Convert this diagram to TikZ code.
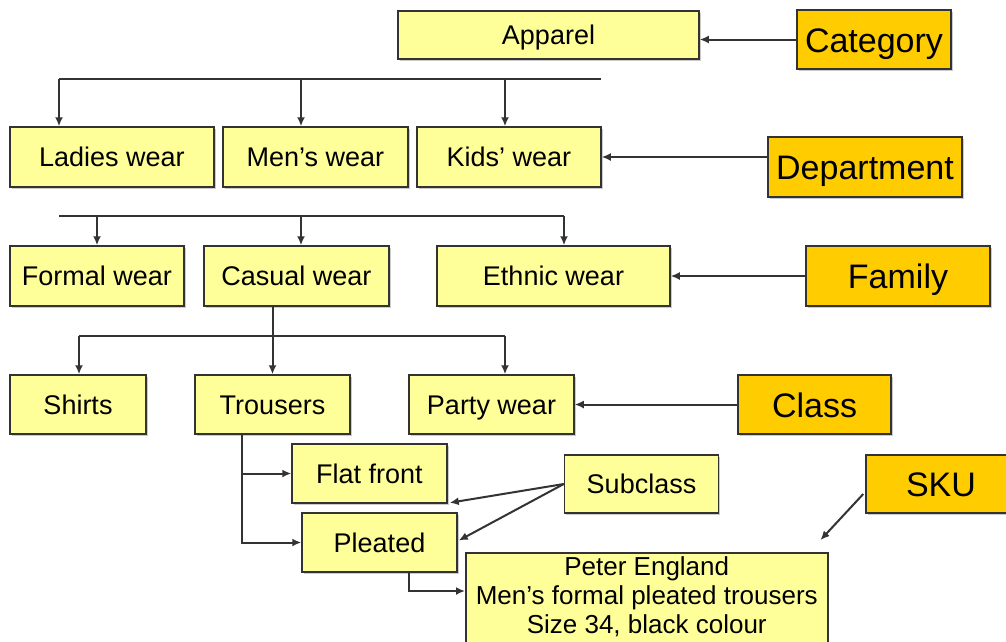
\documentclass[tikz,border=0pt]{standalone}
\usepackage{fontspec}
\setmainfont{Liberation Sans}
\usetikzlibrary{arrows.meta,calc,shadows}
\definecolor{paleyellow}{HTML}{FFFF99}
\definecolor{gold}{HTML}{FFCC00}
\definecolor{edge}{HTML}{333333}

\begin{document}
\begin{tikzpicture}[x=1pt,y=-1pt,
  box/.style={draw=edge, line width=1.5pt, fill=paleyellow, inner sep=0pt,
    font=\fontsize{27}{32}\selectfont, text=black,
    text height=20pt, text depth=1pt,
    drop shadow={shadow xshift=1.5pt, shadow yshift=-1.5pt, fill=black!40}},
  levelbox/.style={box, fill=gold, font=\fontsize{34}{40}\selectfont,
    text height=25pt, text depth=0pt},
  link/.style={draw=edge, line width=2pt},
  arr/.style={link, -{Latex[length=9pt,width=8pt]}}]
\clip (0,0) rectangle (1006,641);
\fill[white] (0,0) rectangle (1006,641);

% hierarchy boxes
\node[box, minimum width=301pt, minimum height=48pt] (apparel) at (548.5,35) {Apparel};
\node[box, minimum width=204pt, minimum height=60pt] (ladies) at (112,157) {Ladies wear};
\node[box, minimum width=185pt, minimum height=60pt] (mens) at (315.5,157) {Men’s wear};
\node[box, minimum width=184pt, minimum height=60pt] (kids) at (509,157) {Kids’ wear};
\node[box, minimum width=174pt, minimum height=60pt] (formal) at (97,276) {Formal wear};
\node[box, minimum width=185pt, minimum height=60pt] (casual) at (296.5,276) {Casual wear};
\node[box, minimum width=233pt, minimum height=60pt] (ethnic) at (553.5,276) {Ethnic wear};
\node[box, minimum width=136pt, minimum height=59pt] (shirts) at (78,404.5) {Shirts};
\node[box, minimum width=155pt, minimum height=59pt] (trousers) at (272.5,404.5) {Trousers};
\node[box, minimum width=165pt, minimum height=59pt] (party) at (491.5,404.5) {Party wear};
\node[box, minimum width=155pt, minimum height=59pt] (flat) at (369.5,473.5) {Flat front};
\node[box, minimum width=155pt, minimum height=59pt] (pleated) at (379.5,542.5) {Pleated};
\node[box, minimum width=154pt, minimum height=58pt] (subclass) at (641.5,484) {Subclass};
\node[box, minimum width=362pt, minimum height=110pt, anchor=north west] (peter) at (465,552) {};
\node[inner sep=0pt, anchor=north, align=center, font=\fontsize{26}{29}\selectfont]
  (petertext) at ($(peter.north)+(0,4)$) {Peter England\\Men’s formal pleated trousers\\Size 34, black colour};

% level labels
\node[levelbox, minimum width=154pt, minimum height=59pt] (category) at (874,39.5) {Category};
\node[levelbox, minimum width=194pt, minimum height=60pt] (department) at (865,167) {Department};
\node[levelbox, minimum width=184pt, minimum height=60pt] (family) at (898,276) {Family};
\node[levelbox, minimum width=153pt, minimum height=59pt] (class) at (814.5,404.5) {Class};
\node[levelbox, minimum width=150pt, minimum height=58pt] (sku) at (941,484) {SKU};

% bus lines
\coordinate (b1a) at (59,79);  \coordinate (b1b) at (301,79);
\coordinate (b1c) at (505,79); \coordinate (b1e) at (601,79);
\draw[link] (b1a) -- (b1e);
\draw[arr] (b1a) -- (b1a |- ladies.north);
\draw[arr] (b1b) -- (b1b |- mens.north);
\draw[arr] (b1c) -- (b1c |- kids.north);

\coordinate (b2a) at (59,216);  \coordinate (b2b) at (97,216);
\coordinate (b2c) at (301,216); \coordinate (b2e) at (564,216);
\draw[link] (b2a) -- (b2e);
\draw[arr] (b2b) -- (b2b |- formal.north);
\draw[arr] (b2c) -- (b2c |- casual.north);
\draw[arr] (b2e) -- (b2e |- ethnic.north);

\coordinate (b3a) at (79,336); \coordinate (b3e) at (505,336);
\draw[link] (b3a) -- (b3e);
\draw[arr] (casual.south -| trousers.north) -- (trousers.north);
\draw[arr] (b3a) -- (b3a |- shirts.north);
\draw[arr] (b3e) -- (b3e |- party.north);

% subclasses and item
\coordinate (trs) at ($(trousers.south west)+(48,0)$);
\draw[arr] (trs) |- (flat.west);
\draw[arr] (trs) |- (pleated.west);
\draw[arr] ($(pleated.south west)+(108,0)$) |- ($(peter.north west)+(0,39)$);

% level pointers
\draw[arr] (category.west) -- (category.west -| apparel.east);
\draw[arr] (kids.east -| department.west) -- (kids.east);
\draw[arr] (family.west) -- (ethnic.east);
\draw[arr] (class.west) -- (party.east);
\draw[arr] (subclass.west) -- ($(flat.south east)+(2,-1)$);
\draw[arr] (subclass.west) -- ($(pleated.east)+(1,-2)$);
\draw[arr] ($(sku.west)+(-2,10)$) -- ($(peter.north east)+(-8,-12)$);
\end{tikzpicture}
\end{document}
